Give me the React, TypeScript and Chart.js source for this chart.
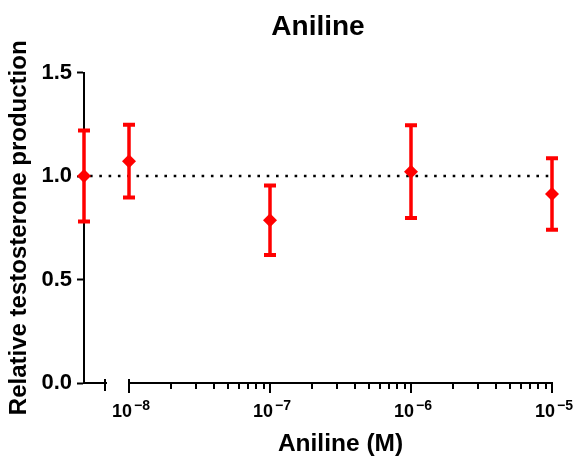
import React, { useEffect, useRef } from 'react';
import { Chart, registerables } from 'chart.js';

Chart.register(...registerables);

const chartTitle = 'Aniline';
const xAxisTitle = 'Aniline (M)';
const yAxisTitle = 'Relative testosterone production';

// control (no aniline) group, drawn on the left broken segment
const controlMeans = [1.0];
const controlErrors = [0.22];

// dose groups on the logarithmic segment
const concentrations = [1e-8, 1e-7, 1e-6, 1e-5];
const means = [1.072, 0.787, 1.021, 0.913];
const errors = [0.176, 0.168, 0.224, 0.173];

const decadeExponents = [-8, -7, -6, -5];
const minorMultipliers = [2, 3, 4, 5, 6, 7, 8, 9];
const referenceLevel = 1.0;
const yMin = 0;
const yMax = 1.5;
const yStep = 0.5;

const RED = '#ff0000';
const FONT = "'Liberation Sans', Arial, sans-serif";

const decorations = {
  id: 'decorations',
  beforeDatasetsDraw(chart: any) {
    const { ctx, chartArea, scales } = chart;
    const y = scales.y;
    // dotted reference line
    ctx.save();
    ctx.strokeStyle = '#000';
    ctx.lineWidth = 2.6;
    ctx.setLineDash([2.6, 6.7]);
    ctx.lineDashOffset = -6;
    const yy = Math.round(y.getPixelForValue(referenceLevel));
    ctx.beginPath();
    ctx.moveTo(chartArea.left, yy);
    ctx.lineTo(chartArea.right - 3, yy);
    ctx.stroke();
    ctx.restore();

    // error bars
    ctx.save();
    ctx.strokeStyle = RED;
    chart.data.datasets.forEach((ds: any) => {
      const xs = scales[ds.xAxisID];
      ds.data.forEach((pt: any) => {
        const px = xs.getPixelForValue(pt.x);
        const top = y.getPixelForValue(pt.y + pt.err);
        const bot = y.getPixelForValue(pt.y - pt.err);
        ctx.lineWidth = 3.5;
        ctx.beginPath();
        ctx.moveTo(px, top);
        ctx.lineTo(px, bot);
        ctx.stroke();
        ctx.lineWidth = 4;
        ctx.beginPath();
        ctx.moveTo(px - 6, top);
        ctx.lineTo(px + 6, top);
        ctx.moveTo(px - 6, bot);
        ctx.lineTo(px + 6, bot);
        ctx.stroke();
      });
    });
    ctx.restore();
  },
  afterDraw(chart: any) {
    const { ctx, scales } = chart;
    const xl = scales.xl;
    const xc = scales.xc;
    const axisY = xl.top;
    ctx.save();
    ctx.strokeStyle = '#000';
    ctx.lineWidth = 2;
    ctx.beginPath();
    // minor ticks
    for (let i = 0; i < decadeExponents.length - 1; i++) {
      for (const m of minorMultipliers) {
        const px = Math.round(xl.getPixelForValue(m * Math.pow(10, decadeExponents[i])));
        ctx.moveTo(px, axisY);
        ctx.lineTo(px, axisY + 6);
      }
    }
    // major ticks
    decadeExponents.forEach((e, i) => {
      const px = Math.round(xl.getPixelForValue(Math.pow(10, e)));
      ctx.moveTo(px, i === 0 ? axisY - 4 : axisY);
      ctx.lineTo(px, axisY + 10);
    });
    // end cap of control segment
    const cx = Math.round(xc.right) - 1;
    ctx.moveTo(cx, axisY - 4);
    ctx.lineTo(cx, axisY + 8);
    ctx.stroke();

    // superscript decade labels
    ctx.fillStyle = '#000';
    ctx.textBaseline = 'alphabetic';
    const baseFont = `bold 18px ${FONT}`;
    const supFont = `bold 14px ${FONT}`;
    decadeExponents.forEach((e) => {
      const px = xl.getPixelForValue(Math.pow(10, e));
      const base = '10';
      const sup = '\u2212' + String(Math.abs(e));
      ctx.font = baseFont;
      const bw = ctx.measureText(base).width;
      ctx.font = supFont;
      const sw = ctx.measureText(sup).width;
      const gap = 2;
      const total = bw + gap + sw;
      const left = px + 2 - total / 2;
      ctx.font = baseFont;
      ctx.textAlign = 'left';
      ctx.fillText(base, left, axisY + 34);
      ctx.font = supFont;
      ctx.fillText(sup, left + bw + gap, axisY + 27);
    });
    ctx.restore();
  },
};

export default function App() {
  const canvasRef = useRef<HTMLCanvasElement | null>(null);

  useEffect(() => {
    document.body.style.margin = '0';
    const canvas = canvasRef.current;
    if (!canvas) return;

    const controlData = controlMeans.map((m, i) => ({ x: 0, y: m, err: controlErrors[i] }));
    const doseData = concentrations.map((c, i) => ({ x: c, y: means[i], err: errors[i] }));

    const pointStyle = {
      pointStyle: 'rectRot',
      pointRadius: 7,
      pointHoverRadius: 7,
      backgroundColor: RED,
      borderColor: RED,
      borderWidth: 0,
      showLine: false,
      clip: false as any,
    };

    const fixHeight = (s: any) => {
      s.height = 81;
    };

    const chart = new Chart(canvas, {
      type: 'scatter',
      data: {
        datasets: [
          { label: 'Control', data: controlData, xAxisID: 'xc', yAxisID: 'y', ...pointStyle } as any,
          { label: 'Aniline', data: doseData, xAxisID: 'xl', yAxisID: 'y', ...pointStyle } as any,
        ],
      },
      options: {
        responsive: false,
        animation: false,
        events: [],
        layout: { padding: { left: 0, right: 27, top: 0, bottom: 0 } },
        plugins: {
          legend: { display: false },
          tooltip: { enabled: false },
          title: {
            display: true,
            fullSize: false,
            text: chartTitle,
            color: '#000',
            font: { family: FONT, size: 28, weight: 'bold' },
            padding: { top: 10, bottom: 29 },
          },
        },
        scales: {
          xc: {
            type: 'linear',
            position: 'bottom',
            stack: 'xaxis',
            stackWeight: 22,
            min: 0,
            max: 1,
            grid: { display: false },
            ticks: { display: false },
            border: { display: true, color: '#000', width: 2 },
            afterFit: fixHeight,
          },
          xg: {
            type: 'linear',
            position: 'bottom',
            stack: 'xaxis',
            stackWeight: 23,
            min: 0,
            max: 1,
            grid: { display: false },
            ticks: { display: false },
            border: { display: false },
            afterFit: fixHeight,
          },
          xl: {
            type: 'logarithmic',
            position: 'bottom',
            stack: 'xaxis',
            stackWeight: 423,
            min: concentrations[0],
            max: concentrations[concentrations.length - 1],
            grid: { display: false },
            ticks: { display: false },
            border: { display: true, color: '#000', width: 2 },
            title: {
              display: true,
              text: xAxisTitle,
              color: '#000',
              font: { family: FONT, size: 24.5, weight: 'bold' },
              padding: { top: 0, bottom: 5 },
            },
            afterFit: fixHeight,
          },
          y: {
            type: 'linear',
            position: 'left',
            min: yMin,
            max: yMax,
            ticks: {
              stepSize: yStep,
              color: '#000',
              padding: 5,
              font: { family: FONT, size: 22, weight: 'bold' },
              callback: (v: any) => Number(v).toFixed(1),
            },
            grid: {
              display: true,
              drawOnChartArea: false,
              drawTicks: true,
              tickLength: 7,
              tickWidth: 2,
              tickColor: '#000',
            },
            border: { display: true, color: '#000', width: 2 },
            title: {
              display: true,
              text: yAxisTitle,
              color: '#000',
              font: { family: FONT, size: 24, weight: 'bold' },
              padding: { top: 5, bottom: 0 },
            },
            afterFit: (s: any) => {
              s.width = 84;
            },
          },
        },
      },
      plugins: [decorations],
    });

    return () => {
      chart.destroy();
    };
  }, []);

  return <canvas ref={canvasRef} width={579} height={464} style={{ display: 'block' }} />;
}
